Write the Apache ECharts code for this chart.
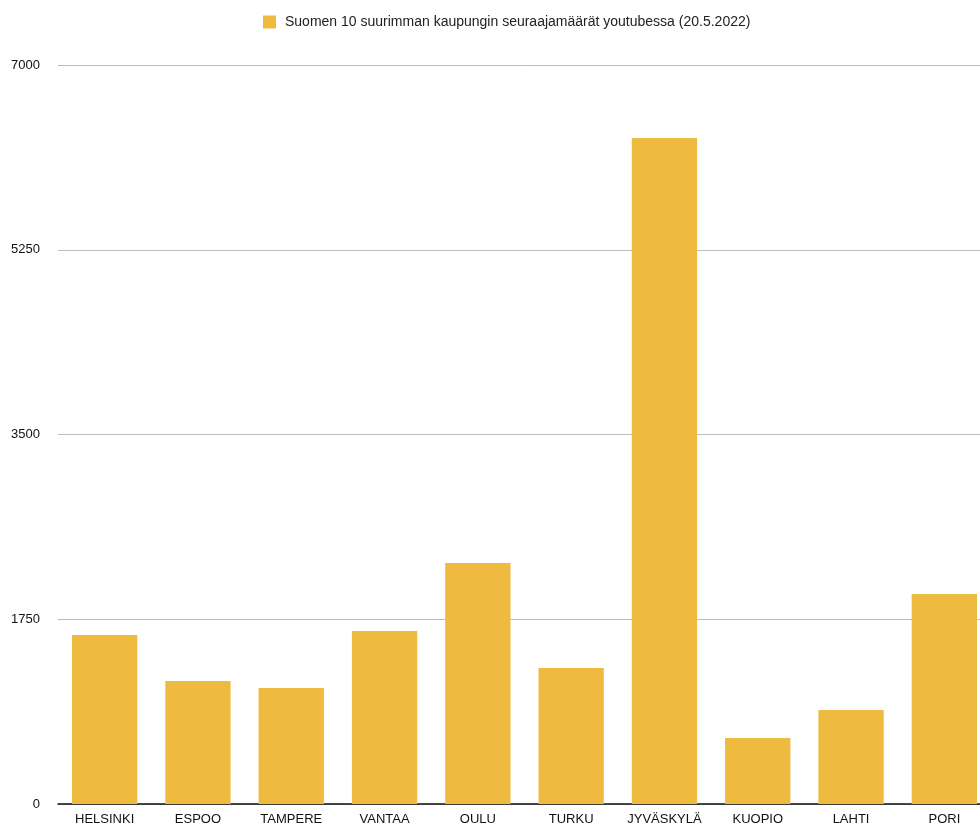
<!DOCTYPE html>
<html><head><meta charset="utf-8">
<script src="https://cdn.jsdelivr.net/npm/echarts@6/dist/echarts.min.js"></script>
<style>html,body{margin:0;padding:0;background:#fff;overflow:hidden}#c{width:1000px;height:828px}</style>
</head><body><div id="c"></div>
<script>
const categories = ["HELSINKI","ESPOO","TAMPERE","VANTAA","OULU","TURKU","JYVÄSKYLÄ","KUOPIO","LAHTI","PORI"];
const values = [1601, 1165, 1099, 1639, 2283, 1288, 6309, 625, 890, 1989];
const yTicks = [0, 1750, 3500, 5250, 7000];
const seriesName = "Suomen 10 suurimman kaupungin seuraajamäärät youtubessa (20.5.2022)";
const chart = echarts.init(document.getElementById('c'));
chart.setOption({
  animation: false,
  textStyle: {fontFamily: 'Liberation Sans, Arial, sans-serif'},
  legend: {top: 10, left: 258, itemWidth: 13, itemHeight: 13, itemGap: 9,
    icon: 'rect',
    textStyle: {fontSize: 14, color: '#222', padding: [0, 0, 0, 4]}, data: [seriesName]},
  grid: {left: 58, width: 933, top: 65, bottom: 24, containLabel: false},
  xAxis: {type: 'category', data: categories,
    axisLine: {lineStyle: {color: '#111', width: 1.5}},
    axisTick: {show: false},
    axisLabel: {fontSize: 13, color: '#111', margin: 9, interval: 0}},
  yAxis: {type: 'value', min: yTicks[0], max: yTicks[yTicks.length-1], interval: 1750,
    axisLine: {show: false}, axisTick: {show: false},
    axisLabel: {fontSize: 13, color: '#111', margin: 18, formatter: v => String(v)},
    splitLine: {lineStyle: {color: '#bcbcbc', width: 1}}},
  series: [{name: seriesName, type: 'bar', data: values, barWidth: '70%',
    itemStyle: {color: '#EEBB40'}}]
});
</script></body></html>
